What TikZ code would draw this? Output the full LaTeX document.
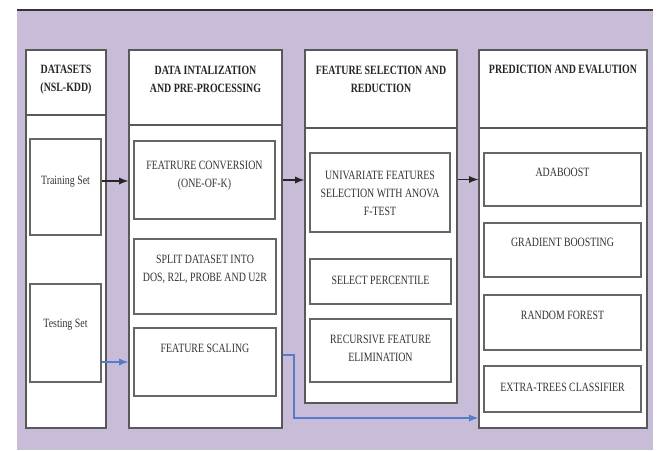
\documentclass[tikz,border=0pt]{standalone}
\usepackage{fontspec}
\setmainfont{Liberation Serif}[FakeStretch=0.78]
\usepackage{xcolor}
\usetikzlibrary{arrows}
\usetikzlibrary{fit}
\usetikzlibrary{positioning}
\definecolor{lilac}{RGB}{200,188,216}
\definecolor{flowblue}{RGB}{84,124,200}
\tikzset{
  column/.style={draw=black!65, fill=white, line width=0.9pt, inner sep=0pt},
  inbox/.style={draw=black!60, fill=white, line width=0.9pt, inner sep=0pt},
  head/.style={font=\fontsize{9.5}{14}\selectfont\bfseries, text=black!85, align=center, inner sep=0pt},
  txt/.style={font=\fontsize{9.5}{13.5}\selectfont, text=black!80, align=center, inner sep=0pt},
  arr/.style={-latex, line width=1.4pt, black!85},
  barr/.style={-latex, line width=1.4pt, flowblue},
}

\begin{document}
\begin{tikzpicture}[x=0.75pt, y=-0.75pt]
    \useasboundingbox (0,0) rectangle (659,450);
    \fill[lilac] (17,10) rectangle (653,450);
    \draw[black!80, line width=1.2pt] (17,10) -- (653,10);

    \node[column, fit={(26,50) (106,428)}] (c1) {};
    \node[column, fit={(129,50) (282,428)}] (c2) {};
    \node[column, fit={(305,50) (457,403)}] (c3) {};
    \node[column, fit={(479,50) (647,428)}] (c4) {};
    \draw[black!65, line width=0.9pt] (26,115) -- (106,115);
    \draw[black!65, line width=0.9pt] (129,125) -- (282,125);
    \draw[black!65, line width=0.9pt] (305,128) -- (457,128);
    \draw[black!65, line width=0.9pt] (479,128) -- (647,128);

    \node[head] (h1) at (66,79.5) {DATASETS\\(NSL-KDD)};
    \node[head] (h2) at (205.5,79.5) {DATA INTALIZATION\\AND PRE-PROCESSING};
    \node[head] (h3) at (381,79.5) {FEATURE SELECTION AND\\REDUCTION};
    \node[head] (h4) at (563,69) {PREDICTION AND EVALUTION};

    \node[inbox, fit={(30,139) (101,235)}] (train) {};
    \node[inbox, fit={(30,284) (101,382)}] (test) {};
    \node[inbox, fit={(134,141) (275,219)}] (fc) {};
    \node[inbox, fit={(134,239) (276,314)}] (sd) {};
    \node[inbox, fit={(134,328) (276,396)}] (fs) {};
    \node[inbox, fit={(310,153) (450,232)}] (uf) {};
    \node[inbox, fit={(310,259) (451,304)}] (sp) {};
    \node[inbox, fit={(310,319) (451,382)}] (rfe) {};
    \node[inbox, fit={(484,153) (641,206)}] (ab) {};
    \node[inbox, fit={(484,223) (641,277)}] (gb) {};
    \node[inbox, fit={(484,295) (641,350)}] (rf) {};
    \node[inbox, fit={(484,366) (641,412)}] (et) {};

    \node[txt] (traint) at (65.5,182) {Training Set};
    \node[txt] (testt) at (65.5,325) {Testing Set};
    \node[txt] (fct) at (204.5,176) {FEATRURE CONVERSION\\(ONE-OF-K)};
    \node[txt] (sdt) at (205,269) {SPLIT DATASET INTO\\DOS, R2L, PROBE AND U2R};
    \node[txt] (fst) at (205,348) {FEATURE SCALING};
    \node[txt] (uft) at (380,193) {UNIVARIATE FEATURES\\SELECTION WITH ANOVA\\F-TEST};
    \node[txt] (spt) at (380.5,280) {SELECT PERCENTILE};
    \node[txt] (rfet) at (380.5,348) {RECURSIVE FEATURE\\ELIMINATION};
    \node[txt] (abt) at (562.5,172) {ADABOOST};
    \node[txt] (gbt) at (562.5,242) {GRADIENT BOOSTING};
    \node[txt] (rft) at (562.5,315) {RANDOM FOREST};
    \node[txt] (ett) at (562.5,387) {EXTRA-TREES CLASSIFIER};

    \draw[arr] ([yshift=4.5pt]train.east) -- ([yshift=4.5pt]train.east -| c2.west);
    \draw[arr] (fc.east -| c2.east) -- (fc.east -| c3.west);
    \draw[arr] (ab.west -| c3.east) -- (ab.west -| c4.west);
    \draw[barr] (fs.west -| test.east) -- (fs.west -| c2.west);
    \coordinate (bend) at (294,418);
    \draw[barr] ([yshift=5pt]fs.east -| c2.east) -| (bend) -- (bend -| c4.west);
\end{tikzpicture}
\end{document}
